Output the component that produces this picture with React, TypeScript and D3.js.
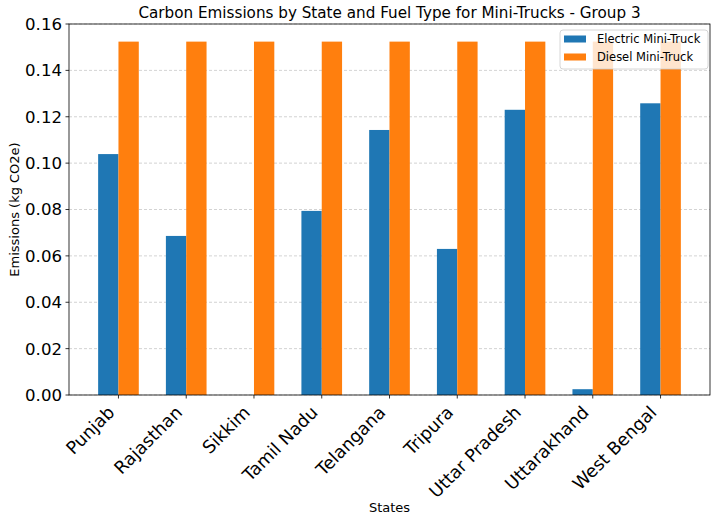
import React from "react";
import * as d3 from "d3";

const states = ["Punjab", "Rajasthan", "Sikkim", "Tamil Nadu", "Telangana", "Tripura", "Uttar Pradesh", "Uttarakhand", "West Bengal"];
const electric = [0.1039, 0.0686, 0, 0.0794, 0.1143, 0.063, 0.123, 0.0025, 0.1258];
const diesel = [0.1524, 0.1524, 0.1524, 0.1524, 0.1524, 0.1524, 0.1524, 0.1524, 0.1524];
const yTicks = [0, 0.02, 0.04, 0.06, 0.08, 0.1, 0.12, 0.14, 0.16];
const seriesNames = ["Electric Mini-Truck", "Diesel Mini-Truck"];
const colors = ["#1f77b4", "#ff7f0e"];

const W = 717, H = 521;
const L = 69, R = 710, T = 24, B = 395;
const font = "DejaVu Sans, sans-serif";

export default function App() {
  const x = d3.scaleLinear().domain([-0.73, 8.73]).range([L, R]);
  const y = d3.scaleLinear().domain([0, 0.16]).range([B, T]);
  const bw = 0.3;
  const series = [electric, diesel];
  return (
    <svg width={W} height={H} style={{ position: "absolute", left: 0, top: 0 }} fontFamily={font}>
      <rect x={0} y={0} width={W} height={H} fill="#fff" />
      {yTicks.map((t) => (
        <line key={"g" + t} x1={L} x2={R} y1={y(t)} y2={y(t)} stroke="#b0b0b0" strokeOpacity={0.7} strokeDasharray="3,2" strokeWidth={0.8} />
      ))}
      {series.map((s, si) =>
        s.map((v, i) => {
          const x0 = x(i + (si === 0 ? -bw : 0));
          const x1 = x(i + (si === 0 ? 0 : bw));
          return <rect key={si + "-" + i} x={x0} y={y(v)} width={x1 - x0} height={y(0) - y(v)} fill={colors[si]} />;
        })
      )}
      <rect x={L} y={T} width={R - L} height={B - T} fill="none" stroke="#000" strokeWidth={0.8} />
      {yTicks.map((t) => (
        <g key={"t" + t}>
          <line x1={L - 3.5} x2={L} y1={y(t)} y2={y(t)} stroke="#000" strokeWidth={0.8} />
          <text x={L - 7} y={y(t)} dy="0.36em" textAnchor="end" fontSize={16.6}>{t.toFixed(2)}</text>
        </g>
      ))}
      {states.map((s, i) => (
        <g key={s}>
          <line x1={x(i)} x2={x(i)} y1={B} y2={B + 3.5} stroke="#000" strokeWidth={0.8} />
          <text transform={`translate(${x(i) - 2.9},${B + 18.5}) rotate(-45)`} textAnchor="end" fontSize={17.6}>{s}</text>
        </g>
      ))}
      <text x={(L + R) / 2} y={18} textAnchor="middle" fontSize={15.2}>Carbon Emissions by State and Fuel Type for Mini-Trucks - Group 3</text>
      <text x={(L + R) / 2} y={512} textAnchor="middle" fontSize={13}>States</text>
      <text transform={`translate(19,${(T + B) / 2}) rotate(-90)`} textAnchor="middle" fontSize={13}>Emissions (kg CO2e)</text>
      <g>
        <rect x={560} y={30} width={148} height={39} rx={3} fill="#fff" fillOpacity={0.8} stroke="#cccccc" strokeWidth={0.8} />
        {seriesNames.map((n, i) => (
          <g key={n}>
            <rect x={564} y={35.5 + i * 18} width={22} height={7} fill={colors[i]} />
            <text x={597} y={39 + i * 18} dy="0.36em" fontSize={11.5}>{n}</text>
          </g>
        ))}
      </g>
    </svg>
  );
}
